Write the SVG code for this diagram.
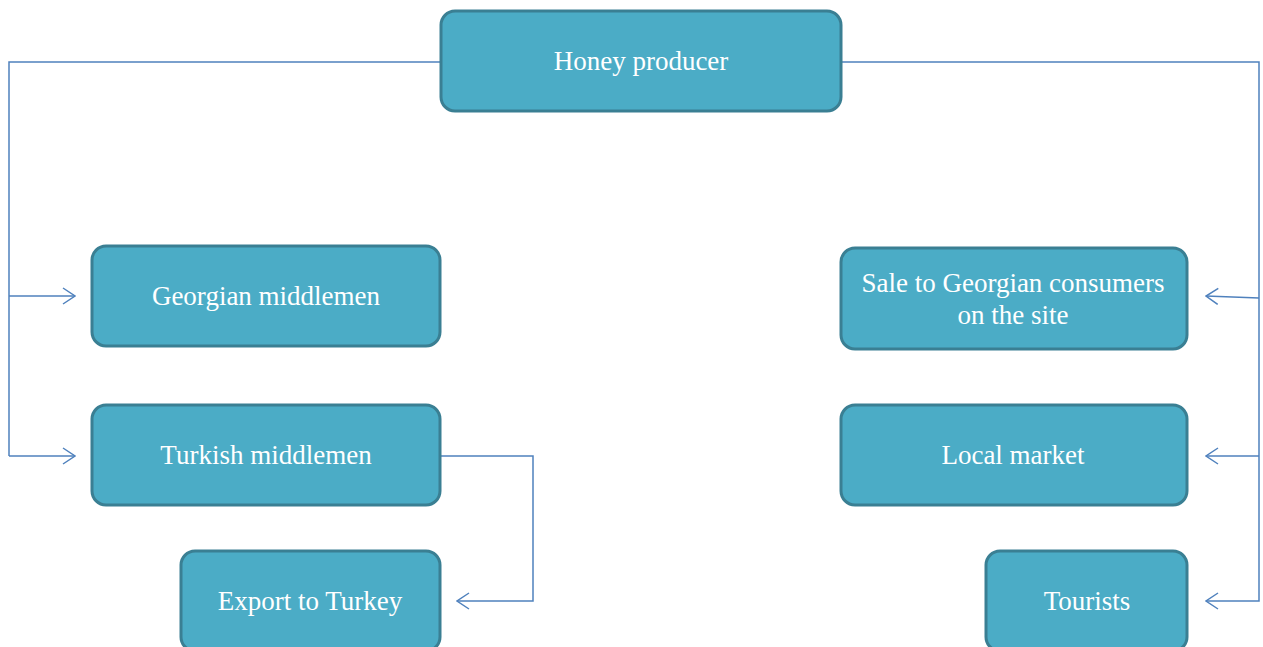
<svg xmlns="http://www.w3.org/2000/svg" width="1263" height="647" viewBox="0 0 1263 647">
<style>
.box{fill:#4BACC6;stroke:#3A7F93;stroke-width:3}
.t{fill:#FFFFFF;font-family:"Liberation Serif","DejaVu Serif",serif;font-size:27px;text-anchor:middle;dominant-baseline:central}
.c{fill:none;stroke:#4F81BD;stroke-width:1.5}
</style>
<defs>
<marker id="ah" viewBox="0 0 14 18" refX="13" refY="9" markerWidth="14" markerHeight="18" markerUnits="userSpaceOnUse" orient="auto">
<path d="M1,1 L13,9 L1,17" fill="none" stroke="#4F81BD" stroke-width="1.5"/>
</marker>
</defs>
<rect width="1263" height="647" fill="#FFFFFF"/>
<g id="connectors">
<path class="c" d="M441,62 H9 V456"/>
<path class="c" d="M9,296 H75" marker-end="url(#ah)"/>
<path class="c" d="M9,456 H75" marker-end="url(#ah)"/>
<path class="c" d="M841,62 H1259 V601 H1206" marker-end="url(#ah)"/>
<path class="c" d="M1259,298 L1206,296" marker-end="url(#ah)"/>
<path class="c" d="M1259,456 H1206" marker-end="url(#ah)"/>
<path class="c" d="M441,456 H533 V601 H457" marker-end="url(#ah)"/>
</g>
<g id="honey-producer"><rect class="box" x="441" y="11" width="400" height="100" rx="14"/><text class="t" x="641" y="61">Honey producer</text></g>
<g id="georgian-middlemen"><rect class="box" x="92" y="246" width="348" height="100" rx="14"/><text class="t" x="266" y="296">Georgian middlemen</text></g>
<g id="turkish-middlemen"><rect class="box" x="92" y="405" width="348" height="100" rx="14"/><text class="t" x="266" y="455">Turkish middlemen</text></g>
<g id="export-to-turkey"><rect class="box" x="181" y="551" width="259" height="100" rx="14"/><text class="t" x="310" y="601">Export to Turkey</text></g>
<g id="sale-to-georgian"><rect class="box" x="841" y="248" width="346" height="101" rx="14"/><text class="t" x="1013" y="283">Sale to Georgian consumers</text><text class="t" x="1013" y="315">on the site</text></g>
<g id="local-market"><rect class="box" x="841" y="405" width="346" height="100" rx="14"/><text class="t" x="1013" y="455">Local market</text></g>
<g id="tourists"><rect class="box" x="986" y="551" width="201" height="100" rx="14"/><text class="t" x="1087" y="601">Tourists</text></g>
</svg>
